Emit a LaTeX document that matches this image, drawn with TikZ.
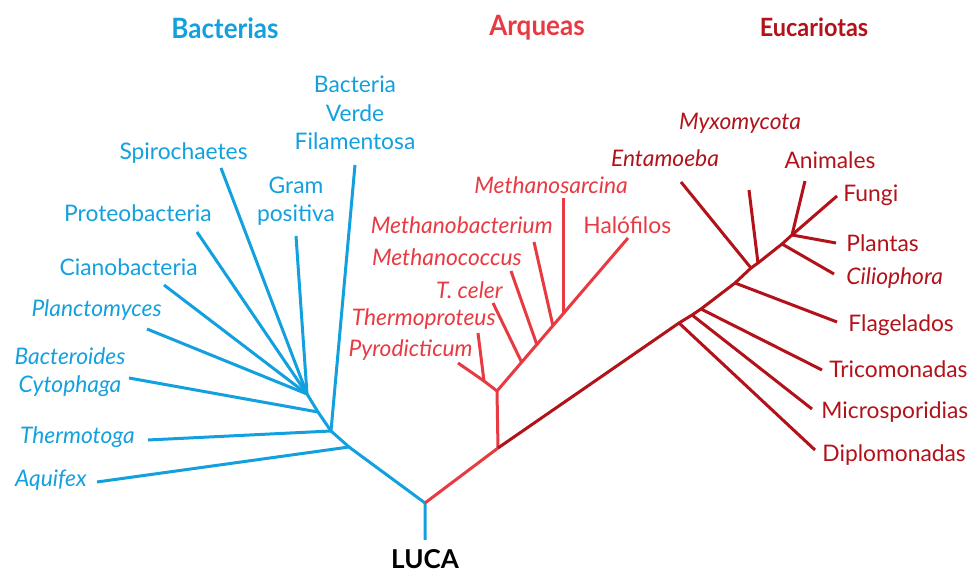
\documentclass[tikz,border=0pt]{standalone}
\usepackage{fontspec}
\setmainfont{Lato}
\usetikzlibrary{positioning}
\definecolor{bacblue}{RGB}{18,160,222}
\definecolor{arqred}{RGB}{232,58,66}
\definecolor{eucred}{RGB}{178,18,26}
\tikzstyle{branch}=[
  line width=1.5pt,
  line join=round,
]
\tikzstyle{taxon}=[
  inner sep=0pt,
  align=center,
  font={\fontsize{11.4}{14.25}\selectfont},
]
\tikzstyle{taxonit}=[
  taxon,
  font={\fontsize{11.4}{14.25}\selectfont\itshape},
]
\tikzstyle{group}=[
  inner sep=0pt,
  font={\fontsize{14}{16}\selectfont\bfseries},
]
\tikzset{
  every picture/.style={x=.5pt,y=-.5pt},
}

\begin{document}
\begin{tikzpicture}
  \useasboundingbox (0,0) rectangle (971,571);
  % group titles
  \node [group, bacblue] (bacterias) at (225,28) {\scalebox{.93}[1]{Bacterias}};
  \node [group, arqred] (arqueas) at (537,28) {\scalebox{.93}[1]{Arqueas}};
  \node [group, eucred, scale=.9] (eucariotas) at (814,27) {\scalebox{.93}[1]{Eucariotas}};
  \node [group, black, font={\fontsize{13}{15}\selectfont\bfseries}] (luca) at (425,559) {LUCA};

  % junctions
  \coordinate (root) at (425,503);
  \coordinate (root-t) at (425,540);
  \coordinate (b1) at (331,431);
  \coordinate (b2) at (318,412);
  \coordinate (b3) at (307,394);
  \coordinate (ba) at (349,447);
  \coordinate (a0) at (497,391);
  \coordinate (ap) at (484,381);
  \coordinate (a2) at (522,363);
  \coordinate (a3) at (537,345);
  \coordinate (a4) at (553,326);
  \coordinate (a5) at (563,313);
  \coordinate (ae) at (498,448);
  \coordinate (e1) at (679,323);
  \coordinate (e2) at (692,315);
  \coordinate (e3) at (701,309);
  \coordinate (e4) at (735,283);
  \coordinate (e5) at (751,268);
  \coordinate (e6) at (758,263);
  \coordinate (e7) at (782,244);
  \coordinate (e8) at (792,235);

  % bacterias
  \node [taxon, bacblue] (verde) at (355,113) {Bacteria\\Verde\\Filamentosa};
  \node [taxon, bacblue, anchor=east] (spiro) at (248,153) {Spirochaetes};
  \node [taxon, bacblue] (gram) at (296,201) {Gram\\positiva};
  \node [taxon, bacblue, anchor=east] (proteo) at (212,213) {Proteobacteria};
  \node [taxon, bacblue, anchor=east] (ciano) at (198,267) {Cianobacteria};
  \node [taxonit, bacblue, anchor=east] (plancto) at (162,310) {Planctomyces};
  \node [taxonit, bacblue] (bactero) at (70,372) {Bacteroides\\Cytophaga};
  \node [taxonit, bacblue, anchor=east] (thermotoga) at (135,437) {Thermotoga};
  \node [taxonit, bacblue, anchor=east] (aquifex) at (87,480) {Aquifex};
  \coordinate (verde-t) at (355,165);
  \coordinate (spiro-t) at (221,168);
  \coordinate (gram-t) at (296,236);
  \coordinate (proteo-t) at (197,232);
  \coordinate (ciano-t) at (164,285);
  \coordinate (plancto-t) at (147,329);
  \coordinate (bactero-t) at (129,378);
  \coordinate (thermotoga-t) at (148,440);
  \coordinate (aquifex-t) at (97,482);
  \draw [branch, bacblue] (root-t) -- (root) -- (ba) -- (b1) -- (b2) -- (b3);
  \draw [branch, bacblue] (verde-t) -- (b1);
  \draw [branch, bacblue] (thermotoga-t) -- (b1);
  \draw [branch, bacblue] (aquifex-t) -- (ba);
  \draw [branch, bacblue] (bactero-t) -- (b2);
  \foreach \t in {spiro,gram,proteo,ciano,plancto}
    \draw [branch, bacblue] (\t-t) -- (b3);

  % arqueas
  \node [taxonit, arqred] (sarcina) at (551,185) {Methanosarcina};
  \node [taxonit, arqred, anchor=east] (mbact) at (553,225) {Methanobacterium};
  \node [taxon, arqred, anchor=west] (halo) at (583,225) {Halófilos};
  \node [taxonit, arqred, anchor=east] (mcocc) at (522,257) {Methanococcus};
  \node [taxonit, arqred, anchor=east] (celer) at (503,290) {T. celer};
  \node [taxonit, arqred, anchor=east] (tproteus) at (496,319) {Thermoproteus};
  \node [taxonit, arqred, anchor=east] (pyro) at (473,350) {Pyrodicticum};
  \coordinate (sarcina-t) at (563,198);
  \coordinate (mbact-t) at (534,242);
  \coordinate (halo-t) at (628,238);
  \coordinate (mcocc-t) at (511,271);
  \coordinate (celer-t) at (493,303);
  \coordinate (tproteus-t) at (478,333);
  \coordinate (pyro-t) at (458,363);
  \draw [branch, arqred] (root) -- (ae) -- (a0) -- (halo-t);
  \draw [branch, arqred] (pyro-t) -- (ap) -- (a0);
  \draw [branch, arqred] (tproteus-t) -- (ap);
  \draw [branch, arqred] (celer-t) -- (a2);
  \draw [branch, arqred] (mcocc-t) -- (a3);
  \draw [branch, arqred] (mbact-t) -- (a4);
  \draw [branch, arqred] (sarcina-t) -- (a5);

  % eucariotas
  \node [taxonit, eucred] (myxo) at (740,123) {Myxomycota};
  \node [taxonit, eucred] (entamoeba) at (665,158) {Entamoeba};
  \node [taxon, eucred] (animales) at (830,160) {Animales};
  \node [taxon, eucred, anchor=west] (fungi) at (843,195) {Fungi};
  \node [taxon, eucred, anchor=west] (plantas) at (846,243) {Plantas};
  \node [taxonit, eucred, anchor=west] (cilio) at (846,278) {Ciliophora};
  \node [taxon, eucred, anchor=west] (flage) at (848,325) {Flagelados};
  \node [taxon, eucred, anchor=west] (trico) at (829,369) {Tricomonadas};
  \node [taxon, eucred, anchor=west] (micro) at (821,412) {Microsporidias};
  \node [taxon, eucred, anchor=west] (diplo) at (822,455) {Diplomonadas};
  \coordinate (myxo-t) at (749,190);
  \coordinate (entamoeba-t) at (681,182);
  \coordinate (animales-t) at (805,181);
  \coordinate (fungi-t) at (837,196);
  \coordinate (plantas-t) at (836,243);
  \coordinate (cilio-t) at (834,274);
  \coordinate (flage-t) at (837,322);
  \coordinate (trico-t) at (822,370);
  \coordinate (micro-t) at (812,409);
  \coordinate (diplo-t) at (815,450);
  \draw [branch, eucred] (ae) -- (e1) -- (e2) -- (e3) -- (e4) -- (e5)
    -- (e6) -- (e7) -- (e8) -- (fungi-t);
  \draw [branch, eucred] (diplo-t) -- (e1);
  \draw [branch, eucred] (micro-t) -- (e2);
  \draw [branch, eucred] (trico-t) -- (e3);
  \draw [branch, eucred] (flage-t) -- (e4);
  \draw [branch, eucred] (entamoeba-t) -- (e5);
  \draw [branch, eucred] (myxo-t) -- (e6);
  \draw [branch, eucred] (cilio-t) -- (e7);
  \draw [branch, eucred] (plantas-t) -- (e8);
  \draw [branch, eucred] (animales-t) -- (e8);
\end{tikzpicture}
\end{document}
